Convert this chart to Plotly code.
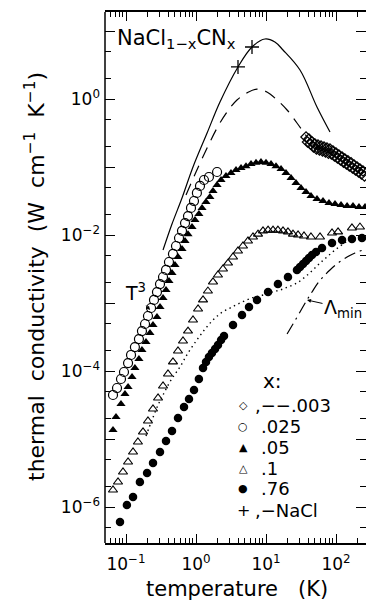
import plotly.graph_objects as go

# ---------------- data (T in K, kappa in W cm^-1 K^-1) ----------------
T_nacl_line = [0.338, 0.454, 0.631, 0.906, 1.44, 2.20, 3.98, 6.31, 9.67, 13.4, 17.5, 30.6, 53.5, 82.1]
k_nacl_line = [0.00601, 0.0145, 0.0350, 0.100, 0.316, 0.903, 2.96, 5.82, 7.63, 6.89, 5.26, 2.67, 0.763, 0.327]
T_nacl_pts = [3.98, 6.31]
k_nacl_pts = [2.96, 5.82]

T_003_line = [0.720, 1.00, 1.44, 2.00, 2.77, 3.85, 5.35, 7.44, 10.3, 14.4, 20.0, 27.7, 38.5]
k_003_line = [0.0387, 0.0844, 0.190, 0.375, 0.644, 0.967, 1.23, 1.40, 1.27, 0.967, 0.689, 0.444, 0.276]
T_003_pts = [37.3, 41.1, 45.4, 50.1, 55.3, 61.1, 67.4, 74.3, 82.0, 90.6, 100, 110, 122, 134, 148, 164, 181, 200,
             220, 243,
             39.2, 43.2, 47.7, 52.6, 58.1, 64.2, 70.8, 78.0, 86.1, 95.1, 105, 116, 128, 141, 155, 172, 190, 210,
             231, 255]
k_003_pts = [0.276, 0.258, 0.233, 0.218, 0.211, 0.204, 0.197, 0.190, 0.184, 0.172, 0.161, 0.150, 0.140, 0.131,
             0.123, 0.115, 0.107, 0.100, 0.0935, 0.0873,
             0.233, 0.218, 0.197, 0.184, 0.178, 0.172, 0.166, 0.160, 0.155, 0.145, 0.136, 0.127, 0.118, 0.111,
             0.104, 0.0971, 0.0903, 0.0844, 0.0789, 0.0737]

T_025 = [0.0652, 0.0744, 0.0848, 0.0936, 0.107, 0.118, 0.134, 0.153, 0.169, 0.187, 0.206, 0.228, 0.251, 0.277,
         0.306, 0.338, 0.373, 0.411, 0.469, 0.518, 0.572, 0.631, 0.697, 0.769, 0.848, 0.936, 1.03, 1.14, 1.30,
         1.53, 2.00]
k_025 = [4.44e-5, 5.62e-5, 7.63e-5, 9.67e-5, 1.31e-4, 1.72e-4, 2.25e-4, 2.95e-4, 3.87e-4, 4.91e-4, 6.44e-4,
         8.44e-4, 1.11e-3, 1.45e-3, 1.90e-3, 2.41e-3, 3.06e-3, 4.01e-3, 5.26e-3, 6.89e-3, 9.03e-3, 1.15e-2,
         1.50e-2, 1.90e-2, 2.50e-2, 3.16e-2, 4.15e-2, 5.26e-2, 6.44e-2, 7.13e-2, 8.44e-2]

T_05 = [0.0652, 0.0720, 0.0848, 0.0967, 0.107, 0.122, 0.134, 0.153, 0.169, 0.193, 0.220, 0.243, 0.277, 0.306,
        0.338, 0.373, 0.411, 0.454, 0.501, 0.553, 0.631, 0.697, 0.769, 0.877, 0.967, 1.10, 1.22, 1.39, 1.58,
        1.75, 2.00, 2.28, 2.68, 3.16, 3.73, 4.40, 5.18, 6.11, 7.20, 8.48, 10.0, 11.8, 13.9, 16.4, 19.3, 22.8,
        26.8, 31.6, 37.3, 43.9, 53.5, 65.2, 79.4, 96.8, 118, 144, 175, 213, 260]
k_05 = [1.36e-5, 2.11e-5, 3.27e-5, 4.59e-5, 5.82e-5, 8.16e-5, 1.11e-4, 1.50e-4, 2.04e-4, 2.67e-4, 3.62e-4,
        4.75e-4, 6.23e-4, 8.73e-4, 1.18e-3, 1.55e-3, 2.11e-3, 2.76e-3, 3.62e-3, 4.75e-3, 6.23e-3, 8.16e-3,
        1.03e-2, 1.31e-2, 1.66e-2, 2.04e-2, 2.50e-2, 3.06e-2, 3.62e-2, 4.44e-2, 5.44e-2, 6.44e-2, 7.37e-2,
        8.16e-2, 9.03e-2, 9.67e-2, 0.103, 0.111, 0.115, 0.118, 0.115, 0.111, 0.103, 9.35e-2, 8.16e-2, 6.89e-2,
        5.82e-2, 4.91e-2, 4.29e-2, 3.75e-2, 3.38e-2, 3.16e-2, 2.95e-2, 2.86e-2, 2.76e-2, 2.67e-2, 2.67e-2,
        2.58e-2, 2.58e-2]

T_1 = [0.0652, 0.0769, 0.0906, 0.107, 0.126, 0.148, 0.175, 0.206, 0.243, 0.287, 0.338, 0.398, 0.469, 0.553,
       0.652, 0.769, 0.906, 1.07, 1.26, 1.48, 1.75, 2.06, 2.43, 2.87, 3.38, 3.98, 4.69, 5.53, 6.52, 7.69, 9.06,
       10.7, 12.6, 14.8, 17.5, 20.6, 24.3, 28.7, 34.9, 43.9, 59.1, 87.7, 107, 169, 220]
k_1 = [1.78e-6, 2.33e-6, 3.27e-6, 4.59e-6, 6.44e-6, 9.03e-6, 1.27e-5, 1.84e-5, 2.76e-5, 4.01e-5, 6.02e-5,
       9.03e-5, 1.36e-4, 1.97e-4, 2.76e-4, 3.87e-4, 5.62e-4, 8.16e-4, 1.11e-3, 1.50e-3, 2.04e-3, 2.58e-3,
       3.16e-3, 3.87e-3, 4.75e-3, 5.82e-3, 6.89e-3, 8.16e-3, 9.35e-3, 1.03e-2, 1.15e-2, 1.18e-2, 1.18e-2,
       1.18e-2, 1.15e-2, 1.11e-2, 1.03e-2, 1.00e-2, 9.67e-3, 9.35e-3, 9.35e-3, 1.07e-2, 1.11e-2, 1.27e-2,
       1.31e-2]

T_76 = [0.0821, 0.103, 0.126, 0.158, 0.200, 0.243, 0.306, 0.373, 0.454, 0.553, 0.674, 0.794, 0.936, 1.10,
        1.26, 1.39, 1.53, 1.69, 1.87, 2.06, 2.28, 2.51, 3.38, 4.54, 5.72, 7.44, 10.7, 14.8, 20.6, 27.7, 30.6,
        33.8, 37.3, 41.1, 45.4, 51.8, 63.1, 87.7, 122, 169, 235]
k_76 = [6.02e-7, 1.07e-6, 1.40e-6, 2.33e-6, 3.16e-6, 4.44e-6, 6.44e-6, 9.35e-6, 1.31e-5, 2.04e-5, 2.95e-5,
        3.87e-5, 5.26e-5, 7.63e-5, 1.11e-4, 1.36e-4, 1.61e-4, 1.84e-4, 2.11e-4, 2.41e-4, 2.86e-4, 3.27e-4,
        4.75e-4, 6.66e-4, 8.73e-4, 1.11e-3, 1.45e-3, 1.90e-3, 2.41e-3, 3.06e-3, 3.38e-3, 3.75e-3, 4.15e-3,
        4.59e-3, 5.08e-3, 5.62e-3, 6.44e-3, 7.63e-3, 8.44e-3, 8.73e-3, 9.03e-3]

T_dotted = [0.193, 0.235, 0.287, 0.338, 0.440, 0.591, 0.769, 1.03, 1.35, 1.75, 2.28, 3.06, 3.98, 5.35, 6.97,
            9.06, 12.2, 15.8, 20.6, 27.7, 36.1, 46.9, 59.1, 74.3, 96.8, 126, 164, 213]
k_dotted = [1.11e-5, 1.90e-5, 3.16e-5, 4.44e-5, 7.37e-5, 1.15e-4, 1.84e-4, 2.86e-4, 4.15e-4, 5.62e-4, 7.13e-4,
            8.44e-4, 9.67e-4, 1.11e-3, 1.23e-3, 1.31e-3, 1.45e-3, 1.55e-3, 1.72e-3, 1.97e-3, 2.41e-3, 3.06e-3,
            3.87e-3, 4.75e-3, 6.02e-3, 7.37e-3, 8.73e-3, 9.67e-3]

T_lmin = [20.0, 24.3, 30.6, 38.5, 45.4, 55.3, 65.2, 82.0, 107, 144, 187, 243]
k_lmin = [3.50e-4, 4.91e-4, 7.37e-4, 1.11e-3, 1.45e-3, 1.97e-3, 2.41e-3, 3.06e-3, 3.87e-3, 4.75e-3, 5.44e-3,
          6.02e-3]

x_major = [0.1, 1, 10, 100]
x_labels = ["10<sup>−1</sup>", "10<sup>0</sup>", "10<sup>1</sup>", "10<sup>2</sup>"]
x_minor = [0.06, 0.07, 0.08, 0.09, 0.2, 0.3, 0.4, 0.5, 0.6, 0.7, 0.8, 0.9,
           2, 3, 4, 5, 6, 7, 8, 9, 20, 30, 40, 50, 60, 70, 80, 90, 200]
y_major = [1e-6, 1e-5, 1e-4, 1e-3, 1e-2, 1e-1, 1, 10]
y_labels = ["10<sup>−6</sup>", " ", "10<sup>−4</sup>", " ", "10<sup>−2</sup>", " ", "10<sup>0</sup>", " "]
y_minor = [5e-7, 2e-6, 5e-6, 2e-5, 5e-5, 2e-4, 5e-4, 2e-3, 5e-3, 2e-2, 5e-2, 0.2, 0.5, 2, 5]

legend_sym = ["◇", "○", "▲", "△", "●", "+"]
legend_txt = [",−−.003", ".025", ".05", ".1", ".76", ",−NaCl"]

# ---------------- layout geometry ----------------
W, H = 366, 603
ML, MR, MT, MB = 105, 0, 12, 60
FONT = "DejaVu Sans"


def px(x):
    return (x - ML) / (W - ML - MR)


def py(y):
    return (H - MB - y) / (H - MT - MB)


fig = go.Figure()

LW = 1.2
fig.add_trace(go.Scatter(x=T_nacl_line, y=k_nacl_line, mode="lines", line=dict(color="black", width=LW, shape="spline")))
fig.add_trace(go.Scatter(x=T_003_line, y=k_003_line, mode="lines",
                         line=dict(color="black", width=LW, dash="12px,8px", shape="spline")))
fig.add_trace(go.Scatter(x=T_dotted, y=k_dotted, mode="lines",
                         line=dict(color="black", width=1.4, dash="1.4px,3.6px", shape="spline")))
fig.add_trace(go.Scatter(x=T_lmin, y=k_lmin, mode="lines",
                         line=dict(color="black", width=LW, dash="12px,5px,2px,5px", shape="spline")))

fig.add_trace(go.Scatter(x=T_003_pts, y=k_003_pts, mode="markers",
                         marker=dict(symbol="diamond-open", size=8, color="black", line=dict(width=1.2, color="black"))))
fig.add_trace(go.Scatter(x=T_025, y=k_025, mode="markers",
                         marker=dict(symbol="circle-open", size=9, color="black", line=dict(width=1.2, color="black"))))
fig.add_trace(go.Scatter(x=T_05, y=k_05, mode="markers",
                         marker=dict(symbol="triangle-up", size=8, color="black", line=dict(width=0))))
fig.add_trace(go.Scatter(x=T_1, y=k_1, mode="markers",
                         marker=dict(symbol="triangle-up-open", size=8, color="black", line=dict(width=1.1, color="black"))))
fig.add_trace(go.Scatter(x=T_76, y=k_76, mode="markers",
                         marker=dict(symbol="circle", size=8.5, color="black", line=dict(width=0))))
fig.add_trace(go.Scatter(x=T_nacl_pts, y=k_nacl_pts, mode="markers",
                         marker=dict(symbol="cross-thin-open", size=10, color="black", line=dict(width=1.3, color="black"))))

tickfont = dict(family=FONT, size=17, color="black")
fig.update_xaxes(type="log", range=[-1.3, 2.4286], showgrid=False, zeroline=False,
                 showline=True, linecolor="black", linewidth=1.5, mirror="ticks",
                 ticks="inside", ticklen=9, tickwidth=1.2, tickcolor="black",
                 tickmode="array", tickvals=x_major, ticktext=x_labels, tickfont=tickfont,
                 ticklabelstandoff=5,
                 minor=dict(tickmode="array", tickvals=x_minor, ticks="inside", ticklen=5,
                            tickwidth=1, tickcolor="black", showgrid=False))
fig.update_yaxes(type="log", range=[-6.5294, 1.2794], showgrid=False, zeroline=False,
                 showline=False, mirror="ticks",
                 ticks="inside", ticklen=10, tickwidth=1.2, tickcolor="black",
                 tickmode="array", tickvals=y_major, ticktext=y_labels, tickfont=tickfont,
                 ticklabelstandoff=4,
                 minor=dict(tickmode="array", tickvals=y_minor, ticks="inside", ticklen=6,
                            tickwidth=1, tickcolor="black", showgrid=False))

# left frame line (the right edge of the frame lies outside the cropped picture)
fig.add_shape(type="line", xref="paper", yref="paper", x0=0, x1=0, y0=0, y1=1,
              line=dict(color="black", width=1.5))

ann = []
nb = "\u00a0"
ann.append(dict(text="thermal" + nb * 2 + "conductivity" + nb * 2 + "(W" + nb * 2 + "cm<sup>−1</sup>" + nb * 2 + "K<sup>−1</sup>)",
                x=px(35), y=py(277), xref="paper", yref="paper", textangle=-90, showarrow=False,
                xanchor="center", yanchor="middle", font=dict(family=FONT, size=22, color="black")))
ann.append(dict(text="temperature" + nb * 3 + "(K)", x=px(237), y=py(589), xref="paper", yref="paper",
                showarrow=False, xanchor="center", yanchor="middle", font=dict(family=FONT, size=21, color="black")))
ann.append(dict(text="NaCl<sub>1−x</sub>CN<sub>x</sub>", x=px(115), y=py(39), xref="paper", yref="paper",
                showarrow=False, xanchor="left", yanchor="middle", font=dict(family=FONT, size=21, color="black")))
ann.append(dict(text="T<sup>3</sup>", x=px(150), y=py(310), xref="paper", yref="paper",
                showarrow=True, ax=-15, ay=-18, arrowhead=2, arrowsize=0.8, arrowwidth=1, arrowcolor="black",
                font=dict(family=FONT, size=19, color="black")))
ann.append(dict(text="Λ<sub>min</sub>", x=px(307), y=py(300), xref="paper", yref="paper",
                showarrow=True, ax=36, ay=8, arrowhead=2, arrowsize=0.8, arrowwidth=1, arrowcolor="black",
                font=dict(family=FONT, size=19, color="black")))
ann.append(dict(text="x:", x=px(261), y=py(381), xref="paper", yref="paper", showarrow=False,
                xanchor="left", yanchor="middle", font=dict(family=FONT, size=20, color="black")))
rows = [405, 426, 447, 468, 488, 510]
for s, t, yy in zip(legend_sym, legend_txt, rows):
    ssize = 16 if s == "+" else 11
    ann.append(dict(text=s, x=px(243), y=py(yy), xref="paper", yref="paper", showarrow=False,
                    xanchor="center", yanchor="middle", font=dict(family=FONT, size=ssize, color="black")))
    tx = 253 if t.startswith(",") else 259
    ann.append(dict(text=t, x=px(tx), y=py(yy), xref="paper", yref="paper", showarrow=False,
                    xanchor="left", yanchor="middle", font=dict(family=FONT, size=18, color="black")))

fig.update_layout(width=W, height=H, margin=dict(l=ML, r=MR, t=MT, b=MB, pad=0),
                  paper_bgcolor="white", plot_bgcolor="white", showlegend=False,
                  hovermode=False, annotations=ann)

fig.write_html("out.html")
